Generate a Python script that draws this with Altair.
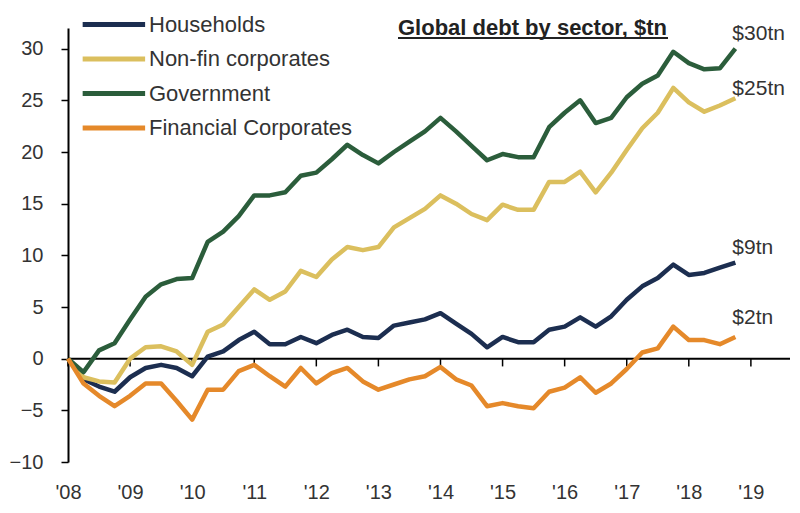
import altair as alt
import pandas as pd

# Quarterly observations, 2008 Q1 .. 2018 Q4 (change since 2008, $tn)
households = [0, -2.0, -2.7, -3.2, -1.8, -0.9, -0.6, -0.9, -1.7, 0.2, 0.7, 1.8,
              2.6, 1.4, 1.4, 2.1, 1.5, 2.3, 2.8, 2.1, 2.0, 3.2, 3.5, 3.8,
              4.4, 3.4, 2.4, 1.1, 2.1, 1.6, 1.6, 2.8, 3.1, 4.0, 3.1, 4.1,
              5.7, 7.0, 7.8, 9.1, 8.1, 8.3, 8.8, 9.3]
nonfin = [0, -1.8, -2.2, -2.3, 0.0, 1.1, 1.2, 0.7, -0.6, 2.6, 3.3, 5.0,
          6.7, 5.7, 6.5, 8.5, 7.9, 9.6, 10.8, 10.5, 10.8, 12.7, 13.6, 14.5,
          15.8, 15.0, 14.0, 13.4, 14.9, 14.4, 14.4, 17.1, 17.1, 18.1, 16.1, 18.0,
          20.2, 22.3, 23.8, 26.2, 24.8, 23.9, 24.5, 25.2]
government = [0, -1.3, 0.8, 1.5, 3.8, 6.0, 7.2, 7.7, 7.8, 11.3, 12.3, 13.8,
              15.8, 15.8, 16.1, 17.7, 18.0, 19.3, 20.7, 19.7, 18.9, 20.0, 21.0, 22.0,
              23.3, 22.0, 20.6, 19.2, 19.8, 19.5, 19.5, 22.4, 23.8, 25.0, 22.8, 23.3,
              25.3, 26.6, 27.4, 29.7, 28.6, 28.0, 28.1, 30.0]
financial = [0, -2.4, -3.6, -4.6, -3.6, -2.4, -2.4, -4.1, -5.9, -3.0, -3.0, -1.2,
             -0.6, -1.7, -2.7, -0.9, -2.4, -1.4, -0.9, -2.2, -3.0, -2.5, -2.0, -1.7,
             -0.8, -2.0, -2.6, -4.6, -4.3, -4.6, -4.8, -3.2, -2.8, -1.8, -3.3, -2.4,
             -1.0, 0.6, 1.0, 3.1, 1.8, 1.8, 1.4, 2.1]

series_names = ["Households", "Non-fin corporates", "Government", "Financial Corporates"]
series_colors = ["#1c2e50", "#dbbf5e", "#2b5d3b", "#e5892a"]
end_labels = ["$9tn", "$25tn", "$30tn", "$2tn"]
end_dy = [-15, -9, -15, -19]
years = list(range(2008, 2020))
y_ticks = [-10, -5, 0, 5, 10, 15, 20, 25, 30]
title_text = "Global debt by sector, $tn"

x_domain = [2008, 2019.63]
y_domain = [-10, 32]

rows = []
for name, vals in zip(series_names, [households, nonfin, government, financial]):
    for i, v in enumerate(vals):
        rows.append({"t": 2008 + i / 4, "value": v, "series": name})
df = pd.DataFrame(rows)

last = df.groupby("series", sort=False).tail(1).copy()
last["label"] = [end_labels[series_names.index(s)] for s in last["series"]]

FONT = "Liberation Sans"
xs = alt.Scale(domain=x_domain, nice=False, zero=False)
ys = alt.Scale(domain=y_domain, nice=False, zero=False)

color = alt.Color(
    "series:N",
    scale=alt.Scale(domain=series_names, range=series_colors),
    sort=series_names,
    legend=alt.Legend(
        title=None, orient="none", legendX=43, legendY=-22,
        symbolType="M-3,0L1,0", symbolSize=975, symbolStrokeWidth=5,
        labelFontSize=22, labelFont=FONT, labelColor="#333333",
        labelOffset=1, rowPadding=4.5, padding=0, labelLimit=400,
    ),
)

zero_df = pd.DataFrame({"x": [x_domain[0]], "x2": [x_domain[1]], "y": [0]})
zero_line = alt.Chart(zero_df).mark_rule(color="black", strokeWidth=2).encode(
    x=alt.X("x:Q", scale=xs), x2="x2:Q", y=alt.Y("y:Q", scale=ys)
)

tick_df = pd.DataFrame({"t": years, "y": [0] * len(years), "y2": [-0.75] * len(years)})
year_ticks = alt.Chart(tick_df).mark_rule(color="black", strokeWidth=1.5).encode(
    x=alt.X("t:Q", scale=xs), y=alt.Y("y:Q", scale=ys), y2="y2:Q"
)

lines = alt.Chart(df).mark_line(strokeWidth=4.5, strokeJoin="round").encode(
    x=alt.X(
        "t:Q", scale=xs, title=None,
        axis=alt.Axis(values=years, domain=False, ticks=False, grid=False,
                      labelExpr="\"'\" + substring(toString(datum.value), 2, 4)",
                      labelFontSize=20, labelFont=FONT, labelColor="#333333",
                      labelPadding=20, labelFlush=False),
    ),
    y=alt.Y(
        "value:Q", scale=ys, title=None,
        axis=alt.Axis(values=y_ticks, domain=True, domainColor="black", domainWidth=2,
                      ticks=True, tickColor="black", tickSize=7, tickWidth=1.5,
                      grid=False, labelFontSize=20, labelFont=FONT,
                      labelColor="#333333", labelPadding=18),
    ),
    color=color,
    detail="series:N",
)

label_layers = []
for lab, dy in zip(end_labels, end_dy):
    sub = last[last["label"] == lab]
    label_layers.append(
        alt.Chart(sub).mark_text(
            align="left", baseline="middle", fontSize=21, font=FONT,
            color="#333333", dx=-3, dy=dy
        ).encode(x=alt.X("t:Q", scale=xs), y=alt.Y("value:Q", scale=ys), text="label:N")
    )

title_df = pd.DataFrame({"text": [title_text]})
title = alt.Chart(title_df).mark_text(
    align="left", baseline="alphabetic", fontSize=22, fontWeight="bold",
    font=FONT, color="#222222"
).encode(x=alt.value(330), y=alt.value(7), text="text:N")
underline = alt.Chart(title_df).mark_rule(color="#222222", strokeWidth=2).encode(
    x=alt.value(330), x2=alt.value(600), y=alt.value(10)
)

chart = alt.layer(zero_line, year_ticks, lines, *label_layers, title, underline).properties(
    width=722, height=434,
    autosize=alt.AutoSizeParams(type="none"),
    padding={"left": 68, "top": 28, "right": 10, "bottom": 51},
    background="white",
).configure_view(strokeWidth=0)

chart.save("out.html", embed_options={"renderer": "svg", "actions": False})
